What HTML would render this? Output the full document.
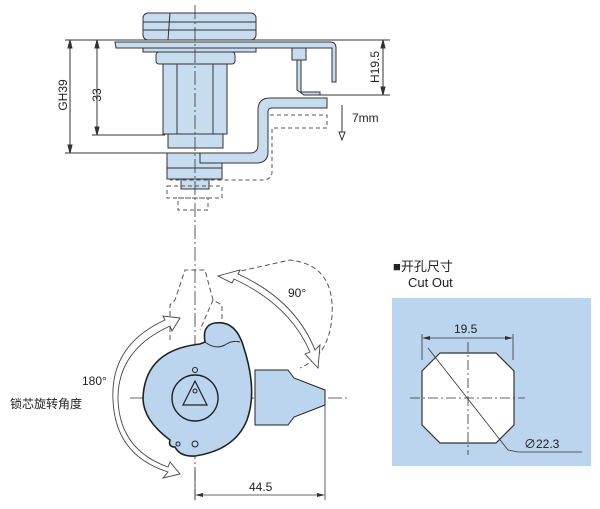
<!DOCTYPE html>
<html><head><meta charset="utf-8"><style>
html,body{margin:0;padding:0;background:#fff}
svg{display:block}
text{font-family:"Liberation Sans","Noto Sans CJK SC",sans-serif;fill:#222}
</style></head><body>
<svg width="600" height="509" viewBox="0 0 600 509" xmlns="http://www.w3.org/2000/svg">
<g stroke="#333" stroke-width="1" fill="none">
<!-- top view extension lines -->
<line x1="65" y1="40" x2="390" y2="40"/>
<line x1="65" y1="153" x2="200" y2="153"/>
<line x1="92" y1="135" x2="165" y2="135"/>
<line x1="320" y1="95" x2="390" y2="95"/>
<!-- dim lines -->
<line x1="70" y1="42" x2="70" y2="151"/>
<path d="M70 40 l-2 8 h4z M70 153 l-2 -8 h4z" fill="#333"/>
<line x1="97" y1="42" x2="97" y2="133"/>
<path d="M97 40 l-2 8 h4z M97 135 l-2 -8 h4z" fill="#333"/>
<line x1="383" y1="42" x2="383" y2="93"/>
<path d="M383 40 l-2 8 h4z M383 95 l-2 -8 h4z" fill="#333"/>
<line x1="342" y1="105" x2="342" y2="135"/>
<path d="M342 140 l-3 -8 h6z" fill="#fff"/>
</g>
<!-- top parts -->
<g stroke="#333" stroke-width="1" fill="#c8dcf0">
<rect x="143" y="13" width="113" height="27" rx="5"/>
<line x1="143" y1="22" x2="256" y2="22"/>
<line x1="143" y1="30" x2="256" y2="30"/>
<line x1="170" y1="13" x2="168" y2="40"/>
<path d="M115 42 L330 42 Q336 42 336 48 L336 82 L332 82 L332 48 L116 48 Z"/>
<rect x="143" y="48" width="113" height="4"/>
<rect x="156" y="52" width="79" height="12" rx="3"/>
<rect x="163" y="64" width="64" height="70"/>
<line x1="177" y1="64" x2="177" y2="134"/><line x1="213" y1="64" x2="213" y2="134"/>
<rect x="168" y="134" width="55" height="14"/>
<rect x="167" y="153" width="55" height="15"/>
<rect x="167" y="168" width="55" height="11"/>
<rect x="181" y="179" width="28" height="10"/>
<rect x="292" y="48" width="14" height="12"/>
<path d="M297 60 L297 90 L304 95 L320 95 L320 92 L301 92 L301 60 Z"/>
<path d="M200 153 L250 153 Q258 153 258 145 L258 110 Q258 98 270 98 L327 98 L327 108 L272 108 Q268 108 268 112 L268 152 Q268 163 256 163 L200 163 Z"/>
</g>
<g stroke="#555" stroke-width="1" fill="none" stroke-dasharray="4,3">
<path d="M270 115 L327 115 L327 128 L272 128 L272 172 Q272 180 262 180 L170 180"/>
<rect x="167" y="186" width="55" height="12"/>
<rect x="178" y="198" width="30" height="12"/>
</g>
<line x1="195" y1="5" x2="195" y2="500" stroke="#333" stroke-width="0.8" stroke-dasharray="14,3,2,3"/>
<text x="352" y="122" font-size="12">7mm</text>
<text font-size="12" transform="translate(101,95) rotate(-90)" text-anchor="middle">33</text>
<text font-size="12" transform="translate(67,95) rotate(-90)" text-anchor="middle">GH39</text>
<text font-size="12" transform="translate(379,67) rotate(-90)" text-anchor="middle">H19.5</text>

<!-- bottom view -->
<g stroke="#555" stroke-width="1" fill="none" stroke-dasharray="5,3">
<path d="M170 340 L170 305 L175 300 L185 270 L205 270 L213 300 L222 305 L222 330"/>
<path d="M218 276 L290 260 Q335 265 332 315 Q330 355 300 368"/>
<path d="M213 300 L200 330"/>
</g>
<line x1="130" y1="398" x2="348" y2="398" stroke="#333" stroke-width="0.8" stroke-dasharray="14,3,2,3"/>
<g stroke="#222" stroke-width="1.6" fill="#bcd5ee">
<path d="M255 370 L288 370 L294 378 L325 390 L325 405 L294 417 L288 425 L255 425 Z" stroke-width="1"/>
<path d="M205 342 Q202 325 215 323 Q235 320 243 345 Q258 390 247 420 Q235 450 195 456 Q180 457 175 447 Q168 447 170 440 Q143 420 143 398 Q145 350 200 344 Z"/>
</g>
<path d="M205 342 Q215 350 225 345 Q232 340 240 342" stroke="#333" fill="none"/>
<circle cx="195" cy="398" r="23" fill="none" stroke="#222" stroke-width="1.4"/>
<path d="M195 381 L183 405 L207 405 Z" fill="none" stroke="#222" stroke-width="1.2"/>
<circle cx="195" cy="391" r="2" fill="none" stroke="#222"/>
<circle cx="195" cy="370" r="2.5" fill="none" stroke="#222"/>
<circle cx="195" cy="444" r="3" fill="none" stroke="#222"/>
<circle cx="178" cy="444" r="2" fill="none" stroke="#222"/>
<!-- rotation arrows -->
<g stroke="#444" stroke-width="0.9" fill="#fff">
<path d="M165 320 Q110 345 113 400 Q115 455 168 472 L163 478 L180 474 L170 462 L168 467 Q120 450 118 400 Q117 350 170 326 L172 331 L180 318 L163 316 Z"/>
<path d="M218 276 L240 270 L238 274 Q295 300 315 350 L320 345 L318 368 L305 354 L310 352 Q290 305 234 279 L232 283 Z"/>
</g>
<text x="82" y="385" font-size="12">180°</text>
<text x="288" y="297" font-size="12">90°</text>
<text x="10" y="408" font-size="12">锁芯旋转角度</text>
<g stroke="#333" stroke-width="0.8">
<line x1="195" y1="470" x2="195" y2="500"/>
<line x1="325" y1="405" x2="325" y2="500"/>
<line x1="197" y1="495" x2="323" y2="495"/>
</g>
<path d="M195 495 l8 -2 v4z M325 495 l-8 -2 v4z" fill="#333"/>
<text x="249" y="491" font-size="12">44.5</text>

<!-- cut out -->
<text x="393" y="271" font-size="13">■开孔尺寸</text>
<text x="408" y="287" font-size="13">Cut Out</text>
<rect x="392" y="298" width="199" height="168" fill="#bcd5ee"/>
<path d="M440 353 L496 353 L514 371 L514 425 L496 443 L440 443 L422 425 L422 371 Z" fill="#fff" stroke="#333" stroke-width="1.2"/>
<g stroke="#333" stroke-width="0.8">
<line x1="422" y1="334" x2="422" y2="360"/><line x1="513" y1="334" x2="513" y2="360"/>
<line x1="424" y1="338" x2="511" y2="338"/>
<line x1="428" y1="348" x2="508" y2="450"/>
<line x1="508" y1="450" x2="518" y2="452"/>
<line x1="518" y1="452" x2="582" y2="452"/>
</g>
<path d="M422 338 l8 -2 v4z M513 338 l-8 -2 v4z" fill="#333"/>
<g stroke="#333" stroke-width="0.8" stroke-dasharray="10,3,2,3">
<line x1="468" y1="342" x2="468" y2="455"/>
<line x1="410" y1="398" x2="525" y2="398"/>
</g>
<text x="454" y="333" font-size="12">19.5</text>
<text x="524" y="448" font-size="12">∅22.3</text>
</svg>
</body></html>
